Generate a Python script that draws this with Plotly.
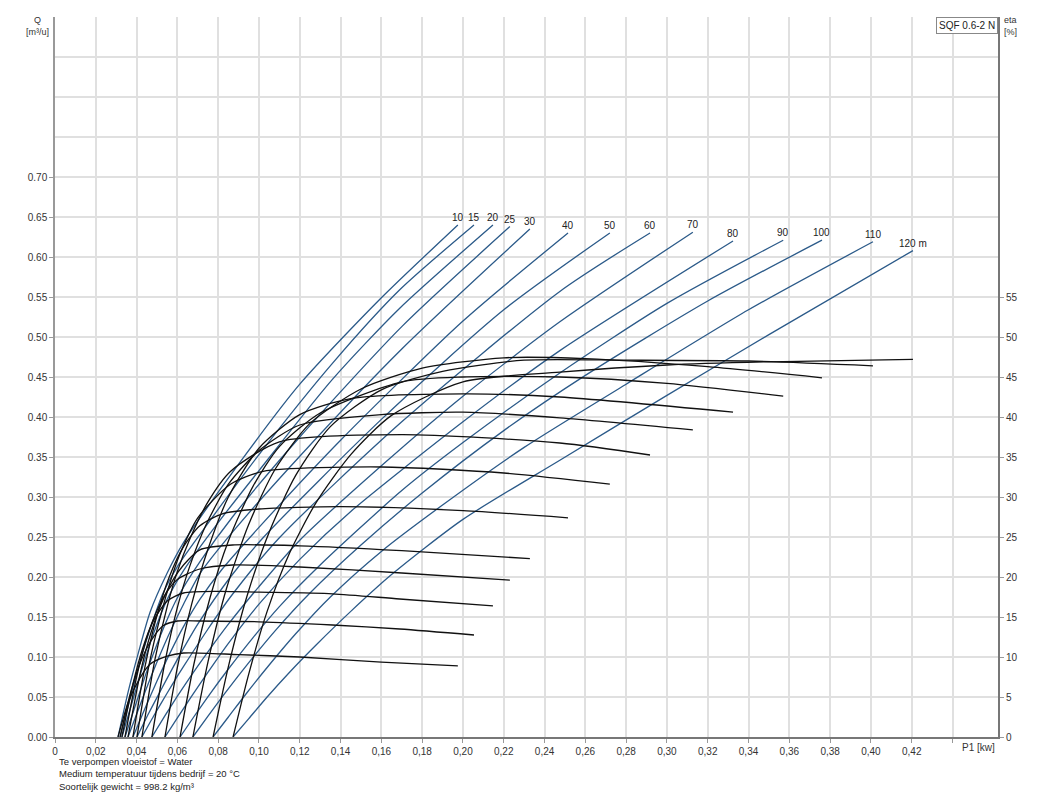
import plotly.graph_objects as go

# ---------------- data ----------------
heads = [10, 15, 20, 25, 30, 40, 50, 60, 70, 80, 90, 100, 110, 120]
head_labels = ["10", "15", "20", "25", "30", "40", "50", "60", "70", "80", "90", "100", "110", "120 m"]

x_tick_vals = [0, 0.02, 0.04, 0.06, 0.08, 0.10, 0.12, 0.14, 0.16, 0.18, 0.20, 0.22,
               0.24, 0.26, 0.28, 0.30, 0.32, 0.34, 0.36, 0.38, 0.40, 0.42, 0.44]
x_tick_text = ["0", "0,02", "0,04", "0,06", "0,08", "0,10", "0,12", "0,14", "0,16", "0,18", "0,20", "0,22",
               "0,24", "0,26", "0,28", "0,30", "0,32", "0,34", "0,36", "0,38", "0,40", "0,42", ""]
q_tick_vals = [0, 0.05, 0.10, 0.15, 0.20, 0.25, 0.30, 0.35, 0.40, 0.45, 0.50, 0.55, 0.60, 0.65, 0.70]
q_tick_text = ["0.00", "0.05", "0.10", "0.15", "0.20", "0.25", "0.30", "0.35", "0.40", "0.45", "0.50",
               "0.55", "0.60", "0.65", "0.70"]
q_grid_extra = [0.75, 0.80, 0.85, 0.90]
eta_tick_vals = [0, 5, 10, 15, 20, 25, 30, 35, 40, 45, 50, 55]

# P1 [kW], Q [m3/h] and eta [%] per head
p1_10 = [0.0309, 0.036, 0.0417, 0.0466, 0.055, 0.063, 0.09, 0.12, 0.16, 0.1975]
q_10 = [0, 0.058, 0.113, 0.156, 0.205, 0.243, 0.341, 0.441, 0.549, 0.640]
eta_10 = [0, 4.4, 7.4, 9.1, 10.1, 10.5, 10.3, 10.0, 9.35, 8.9]

p1_15 = [0.0319, 0.037, 0.042, 0.047, 0.053, 0.060, 0.071, 0.10, 0.136, 0.169, 0.2054]
q_15 = [0, 0.050, 0.097, 0.138, 0.180, 0.213, 0.253, 0.353, 0.467, 0.559, 0.640]
eta_15 = [0, 5.5, 9.4, 12.0, 13.9, 14.5, 14.5, 14.4, 14.0, 13.5, 12.75]

p1_20 = [0.0328, 0.038, 0.043, 0.048, 0.055, 0.063, 0.08, 0.10, 0.136, 0.169, 0.2147]
q_20 = [0, 0.045, 0.088, 0.127, 0.172, 0.208, 0.268, 0.333, 0.447, 0.536, 0.640]
eta_20 = [0, 6.4, 11.1, 14.4, 17.0, 18.0, 18.2, 18.1, 17.9, 17.25, 16.4]

p1_25 = [0.0343, 0.040, 0.045, 0.050, 0.055, 0.060, 0.071, 0.087, 0.12, 0.17, 0.223]
q_25 = [0, 0.044, 0.082, 0.116, 0.147, 0.174, 0.219, 0.275, 0.375, 0.513, 0.638]
eta_25 = [0, 7.5, 12.4, 15.8, 18.2, 19.7, 21.0, 21.5, 21.25, 20.5, 19.6]

p1_30 = [0.0358, 0.042, 0.047, 0.053, 0.058, 0.063, 0.071, 0.087, 0.12, 0.17, 0.2328]
q_30 = [0, 0.042, 0.075, 0.112, 0.140, 0.166, 0.204, 0.256, 0.351, 0.485, 0.635]
eta_30 = [0, 8.2, 13.0, 17.2, 19.7, 21.5, 23.4, 24.0, 23.9, 23.3, 22.3]

p1_40 = [0.0382, 0.044, 0.050, 0.056, 0.063, 0.071, 0.082, 0.10, 0.14, 0.20, 0.2515]
q_40 = [0, 0.035, 0.070, 0.103, 0.138, 0.172, 0.210, 0.262, 0.371, 0.520, 0.630]
eta_40 = [0, 8.65, 15.2, 20.0, 23.8, 26.4, 27.9, 28.5, 28.8, 28.3, 27.4]

p1_50 = [0.0402, 0.046, 0.052, 0.057, 0.0613, 0.070, 0.086, 0.102, 0.16, 0.22, 0.272]
q_50 = [0, 0.030, 0.059, 0.083, 0.103, 0.141, 0.200, 0.249, 0.397, 0.534, 0.630]
eta_50 = [0, 8.9, 15.4, 19.8, 22.9, 27.4, 31.6, 33.2, 33.75, 33.0, 31.6]

p1_60 = [0.0426, 0.049, 0.055, 0.060, 0.066, 0.075, 0.086, 0.11, 0.17, 0.2475, 0.2917]
q_60 = [0, 0.029, 0.055, 0.076, 0.100, 0.135, 0.175, 0.249, 0.394, 0.557, 0.630]
eta_60 = [0, 9.7, 16.3, 20.7, 24.7, 29.4, 33.2, 36.9, 37.8, 36.75, 35.25]

p1_70 = [0.0475, 0.054, 0.060, 0.066, 0.074, 0.085, 0.10, 0.12, 0.16, 0.20, 0.2475, 0.3127]
q_70 = [0, 0.027, 0.051, 0.074, 0.103, 0.141, 0.188, 0.246, 0.339, 0.426, 0.519, 0.631]
eta_70 = [0, 9.5, 16.2, 21.3, 26.5, 31.6, 35.8, 39.0, 40.3, 40.6, 39.9, 38.4]

p1_80 = [0.0539, 0.060, 0.067, 0.075, 0.085, 0.10, 0.12, 0.145, 0.20, 0.2475, 0.3324]
q_80 = [0, 0.024, 0.051, 0.081, 0.117, 0.166, 0.222, 0.282, 0.394, 0.483, 0.620]
eta_80 = [0, 8.7, 16.6, 23.5, 30.0, 36.1, 40.3, 42.3, 42.9, 42.5, 40.6]

p1_90 = [0.0613, 0.068, 0.076, 0.085, 0.097, 0.11, 0.13, 0.17, 0.20, 0.2475, 0.30, 0.357]
q_90 = [0, 0.025, 0.054, 0.085, 0.124, 0.163, 0.215, 0.308, 0.368, 0.455, 0.542, 0.621]
eta_90 = [0, 9.0, 17.4, 24.5, 31.3, 36.3, 40.5, 44.4, 45.0, 45.0, 44.2, 42.6]

p1_100 = [0.0676, 0.075, 0.084, 0.095, 0.108, 0.125, 0.15, 0.18, 0.22, 0.26, 0.32, 0.376]
q_100 = [0, 0.026, 0.057, 0.093, 0.133, 0.180, 0.240, 0.305, 0.383, 0.452, 0.545, 0.621]
eta_100 = [0, 9.4, 18.5, 26.6, 33.5, 39.2, 43.5, 46.1, 47.4, 47.3, 46.3, 44.9]

p1_110 = [0.0775, 0.085, 0.094, 0.105, 0.118, 0.135, 0.16, 0.19, 0.23, 0.28, 0.34, 0.401]
q_110 = [0, 0.025, 0.055, 0.090, 0.129, 0.175, 0.232, 0.290, 0.362, 0.441, 0.534, 0.619]
eta_110 = [0, 8.8, 17.5, 25.6, 32.7, 38.8, 43.4, 45.7, 47.1, 47.1, 47.0, 46.4]

p1_120 = [0.0873, 0.095, 0.104, 0.115, 0.128, 0.145, 0.165, 0.20, 0.2475, 0.30, 0.35, 0.4206]
q_120 = [0, 0.023, 0.050, 0.081, 0.115, 0.157, 0.203, 0.272, 0.346, 0.427, 0.503, 0.608]
eta_120 = [0, 7.9, 15.7, 23.0, 29.3, 35.3, 40.2, 44.4, 45.6, 46.5, 46.9, 47.2]

p1_sets = [p1_10, p1_15, p1_20, p1_25, p1_30, p1_40, p1_50, p1_60, p1_70, p1_80, p1_90, p1_100, p1_110, p1_120]
q_sets = [q_10, q_15, q_20, q_25, q_30, q_40, q_50, q_60, q_70, q_80, q_90, q_100, q_110, q_120]
eta_sets = [eta_10, eta_15, eta_20, eta_25, eta_30, eta_40, eta_50, eta_60, eta_70, eta_80, eta_90,
            eta_100, eta_110, eta_120]

notes = ["Te verpompen vloeistof = Water",
         "Medium temperatuur tijdens bedrijf = 20 °C",
         "Soortelijk gewicht = 998.2 kg/m³"]

# ---------------- figure ----------------
FONT = "Liberation Sans, Arial, sans-serif"
BLUE = "#2b5a89"
BLACK = "#111111"
GRID = "#e0e0e0"

fig = go.Figure()
for p1, q in zip(p1_sets, q_sets):
    fig.add_trace(go.Scatter(x=p1, y=q, mode="lines", yaxis="y",
                             line=dict(color=BLUE, width=1.3, shape="spline", smoothing=0.7),
                             hoverinfo="skip", showlegend=False))
for p1, eta in zip(p1_sets, eta_sets):
    fig.add_trace(go.Scatter(x=p1, y=eta, mode="lines", yaxis="y2",
                             line=dict(color=BLACK, width=1.3, shape="spline", smoothing=0.7),
                             hoverinfo="skip", showlegend=False))

annotations = []
for lab, p1, q in zip(head_labels, p1_sets, q_sets):
    annotations.append(dict(x=p1[-1], y=q[-1], xref="x", yref="y", text=lab, showarrow=False,
                            xanchor="center", yanchor="bottom", yshift=0,
                            font=dict(family=FONT, size=10, color="#222")))

annotations += [
    dict(x=-0.019, y=1, xref="paper", yref="paper", text="Q<br>[m³/u]", showarrow=False,
         xanchor="center", yanchor="top", yshift=4, align="center",
         font=dict(family=FONT, size=9, color="#333")),
    dict(x=1.0042, y=1, xref="paper", yref="paper", text="eta<br>[%]", showarrow=False,
         xanchor="left", yanchor="top", yshift=4, align="left",
         font=dict(family=FONT, size=9, color="#333")),
    dict(x=0.9985, y=0, xref="paper", yref="paper", text="P1 [kw]", showarrow=False,
         xanchor="right", yanchor="top", yshift=-3,
         font=dict(family=FONT, size=10, color="#333")),
    dict(x=1, y=1, xref="paper", yref="paper", text="SQF 0.6-2 N", showarrow=False,
         xanchor="right", yanchor="top", yshift=0, bgcolor="white", bordercolor="#888",
         borderwidth=1, borderpad=2, font=dict(family=FONT, size=10, color="#222")),
    dict(x=0.002, y=-0.024, xref="paper", yref="paper", text="<br>".join(notes), showarrow=False,
         xanchor="left", yanchor="top", align="left",
         font=dict(family=FONT, size=9.5, color="#222")),
]

fig.update_layout(
    width=1024, height=790,
    margin=dict(l=47, r=34, t=9, b=61),
    paper_bgcolor="white", plot_bgcolor="white",
    showlegend=False,
    font=dict(family=FONT, size=10, color="#222"),
    xaxis=dict(range=[0, 0.4623], tickvals=x_tick_vals, ticktext=x_tick_text,
               showgrid=True, gridcolor=GRID, gridwidth=1.5, zeroline=False,
               showline=True, linecolor="#777", linewidth=2,
               ticks="outside", ticklen=4, tickcolor="#999",
               tickfont=dict(family=FONT, size=10, color="#333")),
    yaxis=dict(range=[0, 0.9], tickvals=q_tick_vals, ticktext=q_tick_text,
               showgrid=True, gridcolor=GRID, gridwidth=1.5, zeroline=False,
               showline=True, linecolor="#999", linewidth=1.5,
               ticks="outside", ticklen=4, tickcolor="#999",
               tickfont=dict(family=FONT, size=10, color="#333"),
               minor=dict(tickvals=q_grid_extra, showgrid=True, gridcolor=GRID, gridwidth=1.5, ticks="")),
    yaxis2=dict(range=[0, 90], tickvals=eta_tick_vals, ticktext=[str(v) for v in eta_tick_vals],
                overlaying="y", side="right", showgrid=False, zeroline=False,
                showline=True, linecolor="#777", linewidth=2,
                ticks="outside", ticklen=4, tickcolor="#999",
                tickfont=dict(family=FONT, size=10, color="#333")),
    annotations=annotations,
)

fig.write_html("out.html")
